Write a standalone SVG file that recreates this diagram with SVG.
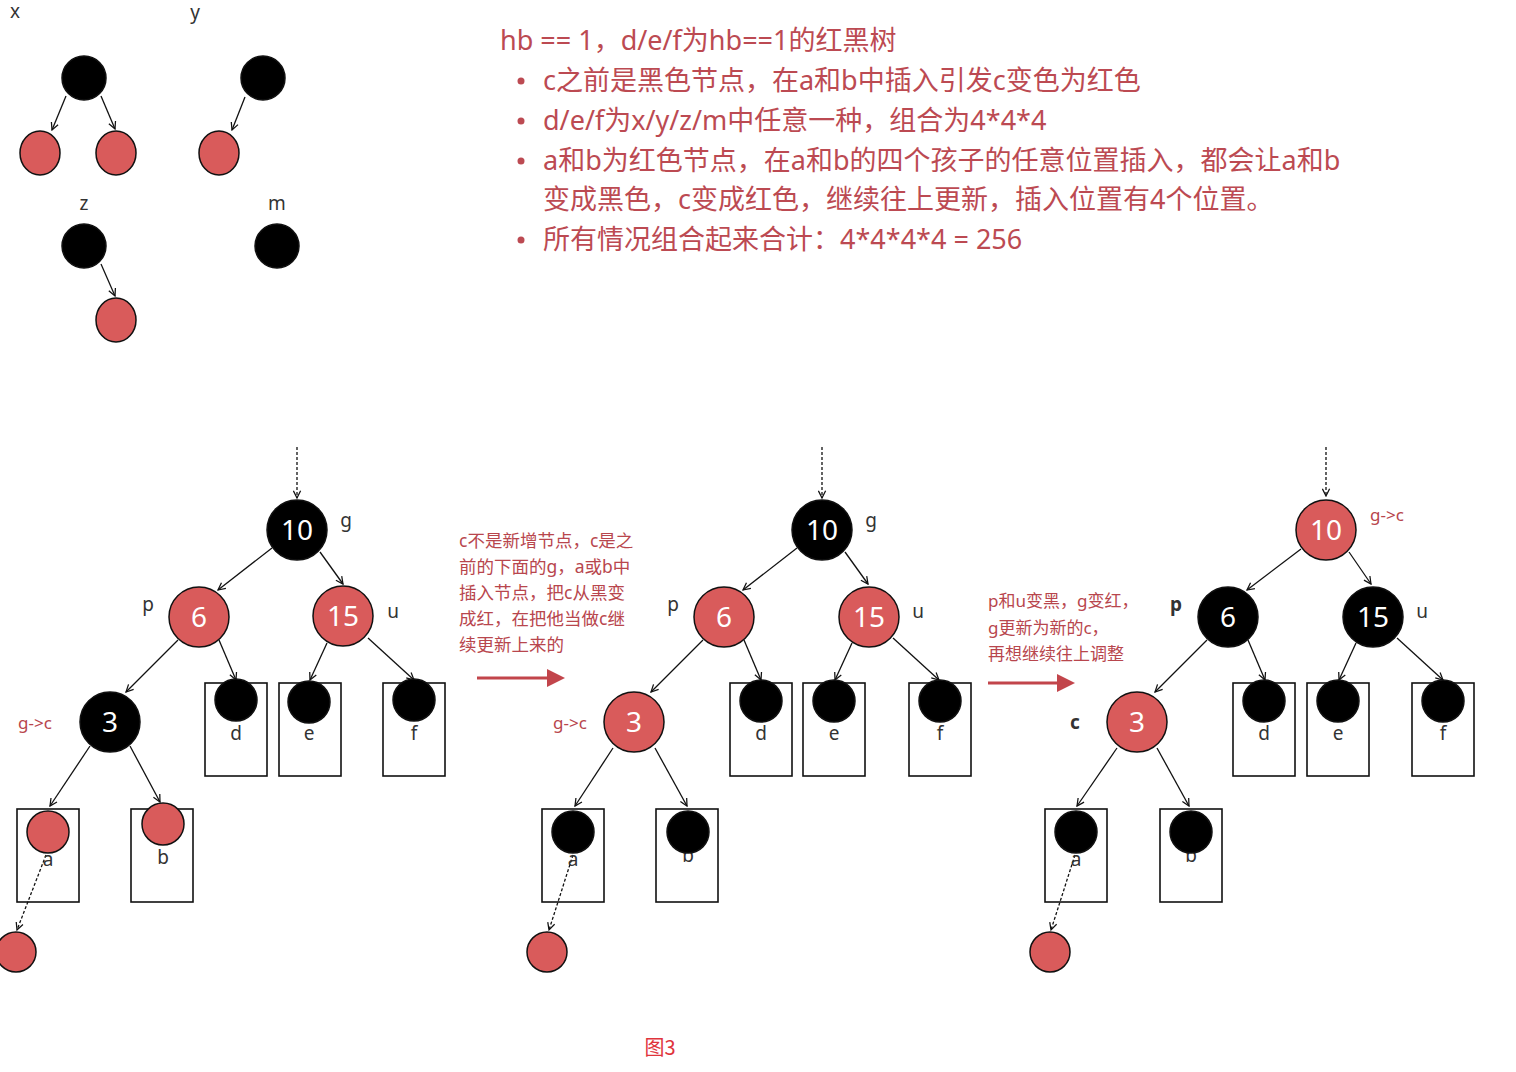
<svg xmlns="http://www.w3.org/2000/svg" width="1516" height="1072" viewBox="0 0 1516 1072">
<defs>
<marker id="ah" viewBox="0 0 10 10" refX="9" refY="5" markerWidth="9" markerHeight="9" markerUnits="userSpaceOnUse" orient="auto">
<path d="M1,1 L9,5 L1,9" fill="none" stroke="#111" stroke-width="1.4"/>
</marker>
<marker id="rah" viewBox="0 0 10 10" refX="5" refY="5" markerWidth="6" markerHeight="6" orient="auto">
<path d="M0,0 L10,5 L0,10 z" fill="#c2454b"/>
</marker>
<style>
.bk{fill:#000;stroke:#111;stroke-width:1.5}
.rd{fill:#d95b5b;stroke:#111;stroke-width:1.5}
.num{font-family:"Noto Sans","DejaVu Sans",sans-serif;font-size:28px;fill:#fff;text-anchor:middle}
.lbl{font-family:"Noto Sans","DejaVu Sans",sans-serif;font-size:19px;fill:#333;text-anchor:middle}
.rlbl{font-family:"Noto Sans","DejaVu Sans",sans-serif;font-size:17px;fill:#b8464d;text-anchor:middle}
.box{fill:#fff;stroke:#111;stroke-width:1.6}
.edge{stroke:#111;stroke-width:1.3;fill:none;marker-end:url(#ah)}
.dot{stroke:#111;stroke-width:1.3;fill:none;stroke-dasharray:3,2;marker-end:url(#ah)}
.main{font-family:"Noto Sans","Noto Sans CJK SC",sans-serif;font-size:27px;fill:#bc4a52}
.note{font-family:"Noto Sans","Noto Sans CJK SC",sans-serif;font-size:17.5px;fill:#b8464d}
.note2{font-family:"Noto Sans","Noto Sans CJK SC",sans-serif;font-size:17px;fill:#b8464d}
.big{stroke:#c2454b;stroke-width:3;marker-end:url(#rah)}
</style>
</defs>
<rect width="1516" height="1072" fill="#fff"/>

<!-- Top-left small trees -->
<g id="legend">
<text class="lbl" x="15" y="18">x</text>
<text class="lbl" x="195" y="19">y</text>
<text class="lbl" x="84" y="210">z</text>
<text class="lbl" x="277" y="210">m</text>
</g>
<g id="legend-connectors">
<line class="edge" x1="66" y1="96" x2="52" y2="130"/>
<line class="edge" x1="101" y1="96" x2="115" y2="129"/>
<line class="edge" x1="245" y1="97" x2="232" y2="130"/>
<line class="edge" x1="101" y1="264" x2="115" y2="296"/>
</g>
<g id="x-root"><circle class="bk" cx="84" cy="78" r="22"/></g>
<g id="x-left"><ellipse class="rd" cx="40" cy="153" rx="20" ry="22"/></g>
<g id="x-right"><ellipse class="rd" cx="116" cy="153" rx="20" ry="22"/></g>
<g id="y-root"><circle class="bk" cx="263" cy="78" r="22"/></g>
<g id="y-left"><ellipse class="rd" cx="219" cy="153" rx="20" ry="22"/></g>
<g id="z-root"><circle class="bk" cx="84" cy="246" r="22"/></g>
<g id="z-right"><ellipse class="rd" cx="116" cy="320" rx="20" ry="22"/></g>
<g id="m-root"><circle class="bk" cx="277" cy="246" r="22"/></g>

<!-- Text block -->
<g id="description">
<text class="main" x="500" y="50">hb == 1，d/e/f为hb==1的红黑树</text>
<circle cx="521" cy="81" r="3.5" fill="#bc4a52"/>
<text class="main" x="543" y="90">c之前是黑色节点，在a和b中插入引发c变色为红色</text>
<circle cx="521" cy="121" r="3.5" fill="#bc4a52"/>
<text class="main" x="543" y="130">d/e/f为x/y/z/m中任意一种，组合为4*4*4</text>
<circle cx="521" cy="161" r="3.5" fill="#bc4a52"/>
<text class="main" x="543" y="170">a和b为红色节点，在a和b的四个孩子的任意位置插入，都会让a和b</text>
<text class="main" x="543" y="209">变成黑色，c变成红色，继续往上更新，插入位置有4个位置。</text>
<circle cx="521" cy="240" r="3.5" fill="#bc4a52"/>
<text class="main" x="543" y="249">所有情况组合起来合计：4*4*4*4 = 256</text>
</g>

<!-- Tree 1 -->
<g id="tree1">
<g id="t1-boxes">
<rect class="box" x="205" y="683" width="62" height="93"/>
<rect class="box" x="279" y="683" width="62" height="93"/>
<rect class="box" x="383" y="683" width="62" height="93"/>
<rect class="box" x="17" y="809" width="62" height="93"/>
<rect class="box" x="131" y="809" width="62" height="93"/>
</g>
<g id="t1-connectors">
<line class="dot" x1="297" y1="447" x2="297" y2="498"/>
<line class="edge" x1="272" y1="548" x2="218" y2="590"/>
<line class="edge" x1="320" y1="552" x2="343" y2="584"/>
<line class="edge" x1="178" y1="640" x2="126" y2="692"/>
<line class="edge" x1="219" y1="640" x2="236" y2="680"/>
<line class="edge" x1="327" y1="643" x2="310" y2="680"/>
<line class="edge" x1="368" y1="638" x2="414" y2="680"/>
<line class="edge" x1="90" y1="746" x2="50" y2="806"/>
<line class="edge" x1="130" y1="746" x2="160" y2="802"/>
<line class="dot" x1="46" y1="855" x2="17" y2="930"/>
</g>
<g id="t1-g"><circle class="bk" cx="297" cy="530" r="30"/><text class="num" x="297" y="540">10</text><text class="lbl" x="346" y="527">g</text></g>
<g id="t1-p"><circle class="rd" cx="199" cy="617" r="30"/><text class="num" x="199" y="627">6</text><text class="lbl" x="148" y="611">p</text></g>
<g id="t1-u"><circle class="rd" cx="343" cy="616" r="30"/><text class="num" x="343" y="626">15</text><text class="lbl" x="393" y="618">u</text></g>
<g id="t1-c"><circle class="bk" cx="110" cy="722" r="30"/><text class="num" x="110" y="732">3</text><text class="rlbl" x="35" y="729">g-&gt;c</text></g>
<g id="t1-d"><text class="lbl" x="236" y="740">d</text><circle class="bk" cx="236" cy="700" r="21"/></g>
<g id="t1-e"><text class="lbl" x="309" y="740">e</text><circle class="bk" cx="309" cy="702" r="21"/></g>
<g id="t1-f"><text class="lbl" x="414" y="740">f</text><circle class="bk" cx="414" cy="700" r="21"/></g>
<g id="t1-a"><text class="lbl" x="48" y="866">a</text><circle class="rd" cx="48" cy="832" r="21"/></g>
<g id="t1-b"><text class="lbl" x="163" y="864">b</text><circle class="rd" cx="163" cy="824" r="21"/></g>
<g id="t1-new"><circle class="rd" cx="16" cy="952" r="20"/></g>
</g>

<!-- Arrow note 1 -->
<g id="note1">
<text class="note" x="459" y="547">c不是新增节点，c是之</text>
<text class="note" x="459" y="573">前的下面的g，a或b中</text>
<text class="note" x="459" y="599">插入节点，把c从黑变</text>
<text class="note" x="459" y="625">成红，在把他当做c继</text>
<text class="note" x="459" y="651">续更新上来的</text>
</g>
<g id="transition-connectors">
<line class="big" x1="477" y1="678" x2="556" y2="678"/>
<line class="big" x1="988" y1="683" x2="1066" y2="683"/>
</g>

<!-- Tree 2 -->
<g id="tree2" transform="translate(525,0)">
<g id="t2-boxes">
<rect class="box" x="205" y="683" width="62" height="93"/>
<rect class="box" x="278" y="683" width="62" height="93"/>
<rect class="box" x="384" y="683" width="62" height="93"/>
<rect class="box" x="17" y="809" width="62" height="93"/>
<rect class="box" x="131" y="809" width="62" height="93"/>
</g>
<g id="t2-connectors">
<line class="dot" x1="297" y1="447" x2="297" y2="498"/>
<line class="edge" x1="272" y1="548" x2="218" y2="590"/>
<line class="edge" x1="320" y1="552" x2="343" y2="584"/>
<line class="edge" x1="178" y1="640" x2="126" y2="692"/>
<line class="edge" x1="219" y1="640" x2="236" y2="680"/>
<line class="edge" x1="327" y1="643" x2="310" y2="680"/>
<line class="edge" x1="368" y1="638" x2="414" y2="680"/>
<line class="edge" x1="88" y1="748" x2="50" y2="806"/>
<line class="edge" x1="130" y1="748" x2="162" y2="806"/>
<line class="dot" x1="48" y1="855" x2="24" y2="930"/>
</g>
<g id="t2-g"><circle class="bk" cx="297" cy="530" r="30"/><text class="num" x="297" y="540">10</text><text class="lbl" x="346" y="527">g</text></g>
<g id="t2-p"><circle class="rd" cx="199" cy="617" r="30"/><text class="num" x="199" y="627">6</text><text class="lbl" x="148" y="611">p</text></g>
<g id="t2-u"><circle class="rd" cx="344" cy="617" r="30"/><text class="num" x="344" y="627">15</text><text class="lbl" x="393" y="618">u</text></g>
<g id="t2-c"><circle class="rd" cx="109" cy="722" r="30"/><text class="num" x="109" y="732">3</text><text class="rlbl" x="45" y="729">g-&gt;c</text></g>
<g id="t2-d"><text class="lbl" x="236" y="740">d</text><circle class="bk" cx="236" cy="701" r="21"/></g>
<g id="t2-e"><text class="lbl" x="309" y="740">e</text><circle class="bk" cx="309" cy="701" r="21"/></g>
<g id="t2-f"><text class="lbl" x="415" y="740">f</text><circle class="bk" cx="415" cy="701" r="21"/></g>
<g id="t2-a"><text class="lbl" x="48" y="866">a</text><circle class="bk" cx="48" cy="832" r="21"/></g>
<g id="t2-b"><text class="lbl" x="163" y="862">b</text><circle class="bk" cx="163" cy="832" r="21"/></g>
<g id="t2-new"><circle class="rd" cx="22" cy="952" r="20"/></g>
</g>

<!-- Arrow note 2 -->
<g id="note2">
<text class="note2" x="988" y="607">p和u变黑，g变红，</text>
<text class="note2" x="988" y="634">g更新为新的c，</text>
<text class="note2" x="988" y="660">再想继续往上调整</text>
</g>

<!-- Tree 3 -->
<g id="tree3" transform="translate(1029,0)">
<g id="t3-boxes">
<rect class="box" x="204" y="683" width="62" height="93"/>
<rect class="box" x="278" y="683" width="62" height="93"/>
<rect class="box" x="383" y="683" width="62" height="93"/>
<rect class="box" x="16" y="809" width="62" height="93"/>
<rect class="box" x="131" y="809" width="62" height="93"/>
</g>
<g id="t3-connectors">
<line class="dot" x1="297" y1="447" x2="297" y2="496"/>
<line class="edge" x1="272" y1="549" x2="218" y2="590"/>
<line class="edge" x1="320" y1="552" x2="342" y2="584"/>
<line class="edge" x1="178" y1="640" x2="126" y2="692"/>
<line class="edge" x1="219" y1="640" x2="236" y2="680"/>
<line class="edge" x1="327" y1="643" x2="310" y2="680"/>
<line class="edge" x1="368" y1="638" x2="414" y2="680"/>
<line class="edge" x1="88" y1="748" x2="48" y2="806"/>
<line class="edge" x1="128" y1="748" x2="160" y2="806"/>
<line class="dot" x1="46" y1="855" x2="22" y2="930"/>
</g>
<g id="t3-g"><circle class="rd" cx="297" cy="530" r="30"/><text class="num" x="297" y="540">10</text><text class="rlbl" x="358" y="521">g-&gt;c</text></g>
<g id="t3-p"><circle class="bk" cx="199" cy="617" r="30"/><text class="num" x="199" y="627">6</text><text class="lbl" x="147" y="611" font-weight="bold">p</text></g>
<g id="t3-u"><circle class="bk" cx="344" cy="617" r="30"/><text class="num" x="344" y="627">15</text><text class="lbl" x="393" y="618">u</text></g>
<g id="t3-c"><circle class="rd" cx="108" cy="722" r="30"/><text class="num" x="108" y="732">3</text><text class="lbl" x="46" y="729" font-weight="bold">c</text></g>
<g id="t3-d"><text class="lbl" x="235" y="740">d</text><circle class="bk" cx="235" cy="701" r="21"/></g>
<g id="t3-e"><text class="lbl" x="309" y="740">e</text><circle class="bk" cx="309" cy="701" r="21"/></g>
<g id="t3-f"><text class="lbl" x="414" y="740">f</text><circle class="bk" cx="414" cy="701" r="21"/></g>
<g id="t3-a"><text class="lbl" x="47" y="866">a</text><circle class="bk" cx="47" cy="832" r="21"/></g>
<g id="t3-b"><text class="lbl" x="162" y="862">b</text><circle class="bk" cx="162" cy="832" r="21"/></g>
<g id="t3-new"><circle class="rd" cx="21" cy="952" r="20"/></g>
</g>

<g id="caption">
<text x="660" y="1055" text-anchor="middle" font-family="Noto Sans CJK SC, sans-serif" font-size="20" fill="#e0343c">图3</text>
</g>
</svg>
